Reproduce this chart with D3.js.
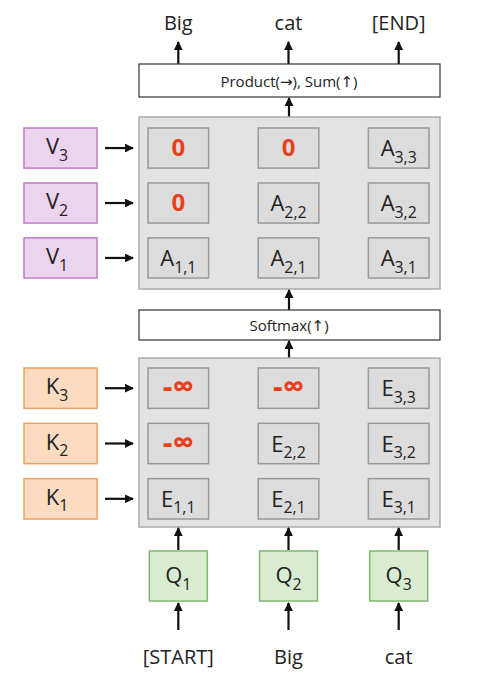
<!DOCTYPE html>
<meta charset="utf-8">
<style>
body { margin: 0; background: #fff; font-family: "Open Sans", sans-serif; }
text { fill: #222; }
.sym { font-family: "DejaVu Sans", sans-serif; }
</style>
<body>
<script src="https://d3js.org/d3.v7.min.js"></script>
<script>
// labels, top row first
var outWords = ["Big", "cat", "[END]"];
var inWords = ["[START]", "Big", "cat"];
var vLabels = [["V", "3"], ["V", "2"], ["V", "1"]];
var kLabels = [["K", "3"], ["K", "2"], ["K", "1"]];
var qLabels = [["Q", "1"], ["Q", "2"], ["Q", "3"]];
// cell contents: [main, subscript] ; null subscript = masked (red)
var aCells = [
  [["0", null], ["0", null], ["A", "3,3"]],
  [["0", null], ["A", "2,2"], ["A", "3,2"]],
  [["A", "1,1"], ["A", "2,1"], ["A", "3,1"]]
];
var eCells = [
  [["-\u221e", null], ["-\u221e", null], ["E", "3,3"]],
  [["-\u221e", null], ["E", "2,2"], ["E", "3,2"]],
  [["E", "1,1"], ["E", "2,1"], ["E", "3,1"]]
];

var svg = d3.select("body").append("svg").attr("width", 492).attr("height", 687);
var defs = svg.append("defs");
defs.append("marker").attr("id", "ah").attr("viewBox", "0 0 10 10")
  .attr("refX", 9).attr("refY", 5).attr("markerWidth", 4).attr("markerHeight", 4)
  .attr("orient", "auto")
  .append("path").attr("d", "M0,0 L10,5 L0,10 Z").attr("fill", "#111");

var col = d3.scaleBand().domain([0, 1, 2]).range([148, 429]).paddingInner(0.45).paddingOuter(0);
var colC = function(i) { return col(i) + col.bandwidth() / 2; };

function arrow(x1, y1, x2, y2) {
  svg.append("line").attr("x1", x1).attr("y1", y1).attr("x2", x2).attr("y2", y2)
    .attr("stroke", "#111").attr("stroke-width", 2.2).attr("marker-end", "url(#ah)");
}
function label(g, x, y, main, sub, size, color) {
  var t = g.append("text").attr("x", x).attr("y", y).attr("text-anchor", "middle")
    .attr("font-size", size).style("fill", color || "#222");
  t.append("tspan").text(main);
  if (sub) t.append("tspan").attr("dy", size * 0.3).attr("font-size", size * 0.72).text(sub);
}
function panel(y0, y1, rows, cells, sideLabels, sideFill, sideStroke) {
  svg.append("rect").attr("x", 139).attr("y", y0).attr("width", 301).attr("height", y1 - y0)
    .attr("fill", "#e3e3e3").attr("stroke", "#aaa").attr("stroke-width", 1.5);
  var row = d3.scaleBand().domain([0, 1, 2]).range(rows).paddingInner(0.27);
  cells.forEach(function(r, ri) {
    var y = row(ri), h = row.bandwidth();
    r.forEach(function(c, ci) {
      svg.append("rect").attr("x", col(ci)).attr("y", y).attr("width", col.bandwidth()).attr("height", h)
        .attr("fill", "#dcdcdc").attr("stroke", "#999").attr("stroke-width", 1.5);
      if (c[1] === null) {
        var big = c[0].length > 1;
        svg.append("text").attr("x", colC(ci)).attr("y", y + h / 2 + (big ? 9 : 8)).attr("text-anchor", "middle")
          .attr("font-size", big ? 30 : 24).attr("font-weight", "bold").style("fill", "#e8401c").text(c[0]);
      } else {
        label(svg, colC(ci), y + h / 2 + 8, c[0], c[1], 22);
      }
    });
    svg.append("rect").attr("x", 24).attr("y", y).attr("width", 73).attr("height", h)
      .attr("fill", sideFill).attr("stroke", sideStroke).attr("stroke-width", 1.5);
    label(svg, 57, y + h / 2 + 6, sideLabels[ri][0], sideLabels[ri][1], 22);
    arrow(105, y + h / 2, 133, y + h / 2);
  });
}

// top words & product box
outWords.forEach(function(w, i) {
  svg.append("text").attr("x", colC(i)).attr("y", 30).attr("text-anchor", "middle").attr("font-size", 20).text(w);
  arrow(colC(i), 64, colC(i), 42);
});
svg.append("rect").attr("x", 139).attr("y", 64).attr("width", 301).attr("height", 33)
  .attr("fill", "#fff").attr("stroke", "#333").attr("stroke-width", 1.2);
var pt = svg.append("text").attr("x", 289).attr("y", 87).attr("text-anchor", "middle").attr("font-size", 15);
pt.append("tspan").text("Product(");
pt.append("tspan").attr("class", "sym").text("\u2192");
pt.append("tspan").text("),  Sum(");
pt.append("tspan").attr("class", "sym").text("\u2191");
pt.append("tspan").text(")");
arrow(289, 117, 289, 98);

panel(117, 289, [128, 278], aCells, vLabels, "#ecd3f0", "#c47ac8");
arrow(289, 310, 289, 290);
svg.append("rect").attr("x", 139).attr("y", 310).attr("width", 301).attr("height", 30)
  .attr("fill", "#fff").attr("stroke", "#333").attr("stroke-width", 1.2);
var st = svg.append("text").attr("x", 289).attr("y", 331).attr("text-anchor", "middle").attr("font-size", 15);
st.append("tspan").text("Softmax(");
st.append("tspan").attr("class", "sym").text("\u2191");
st.append("tspan").text(")");
arrow(289, 358, 289, 341);
panel(358, 527, [368, 519], eCells, kLabels, "#fcdcc0", "#f0a060");

qLabels.forEach(function(q, i) {
  arrow(colC(i), 550, colC(i), 528);
  var w = 58, x = colC(i) - w / 2;
  svg.append("rect").attr("x", x).attr("y", 551).attr("width", w).attr("height", 50)
    .attr("fill", "#d8ecd0").attr("stroke", "#7fb870").attr("stroke-width", 1.5);
  label(svg, colC(i), 583, q[0], q[1], 22);
  arrow(colC(i), 630, colC(i), 603);
  svg.append("text").attr("x", colC(i)).attr("y", 664).attr("text-anchor", "middle").attr("font-size", 20).text(inWords[i]);
});
</script>
</body>
